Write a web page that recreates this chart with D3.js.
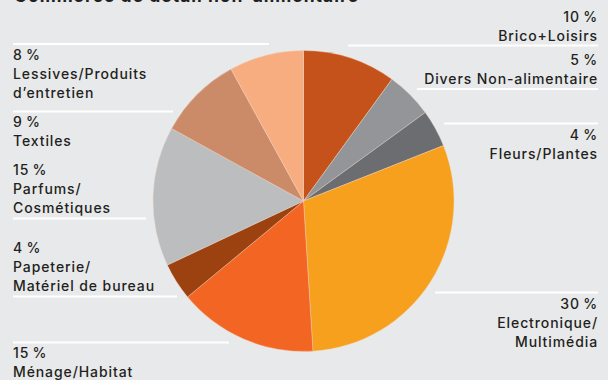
<!DOCTYPE html>
<html><head><meta charset="utf-8">
<script src="https://cdn.jsdelivr.net/npm/d3@7"></script>
<style>
html,body{margin:0;padding:0;background:#e8e9ea;}
svg{display:block;}
text{font-family:Inter,"Noto Sans",sans-serif;fill:#231f20;}
</style></head><body>
<svg id="c" width="608" height="380"></svg>
<script>
const title = "Commerce de détail non-alimentaire";
const categories = ["Brico+Loisirs","Divers Non-alimentaire","Fleurs/Plantes","Electronique/Multimédia","Ménage/Habitat","Papeterie/Matériel de bureau","Parfums/Cosmétiques","Textiles","Lessives/Produits d’entretien"];
const values = [10,5,4,30,15,4,15,9,8];
const colors = ["#c5521a","#939598","#6b6d70","#f7a01d","#f26522","#9c4110","#bbbdbf","#cb8b69","#f8ad80"];
const labelLines = [
  ["10 %","Brico+Loisirs"],
  ["5 %","Divers Non-alimentaire"],
  ["4 %","Fleurs/Plantes"],
  ["30 %","Electronique/","Multimédia"],
  ["15 %","Ménage/Habitat"],
  ["4 %","Papeterie/","Matériel de bureau"],
  ["15 %","Parfums/","Cosmétiques"],
  ["9 %","Textiles"],
  ["8 %","Lessives/Produits","d’entretien"]
];
// label layout: side, first baseline, rule y, rule extent
const labelLayout = [
  {side:"r", y:21.5, rule:45.5, rx:[348,598]},
  {side:"r", y:65,   rule:89,   rx:[417,598]},
  {side:"r", y:140,  rule:123.5,rx:[444,598]},
  {side:"r", y:309,  rule:292.5,rx:[435,598]},
  {side:"l", y:358,  rule:342.5,rx:[13,229]},
  {side:"l", y:253,  rule:296.5,rx:[13,177]},
  {side:"l", y:175,  rule:218.5,rx:[13,146]},
  {side:"l", y:127,  rule:111.5,rx:[13,173]},
  {side:"l", y:59.5, rule:44,   rx:[13,269]}
];

const svg = d3.select("#c");
svg.append("text").attr("x",14).attr("y",1.5).attr("font-size",17.5).attr("font-weight",700)
  .attr("letter-spacing",1.0).text(title);

const cx = 303.5, cy = 201, r = 150.5;
const pie = d3.pie().sort(null).value(d=>d)(values);
const arc = d3.arc().innerRadius(0).outerRadius(r);
const g = svg.append("g").attr("transform",`translate(${cx},${cy})`);
g.selectAll("path").data(pie).join("path")
  .attr("d",arc).attr("fill",(d,i)=>colors[i])
  .attr("stroke","#f2d9c8").attr("stroke-width",0.4);

const lg = svg.append("g");
labelLayout.forEach((L,i)=>{
  lg.append("line").attr("x1",L.rx[0]).attr("x2",L.rx[1]).attr("y1",L.rule).attr("y2",L.rule)
    .attr("stroke","#ffffff").attr("stroke-width",2);
  const t = lg.append("text").attr("font-size",14).attr("font-weight",500).attr("letter-spacing",0.9)
    .attr("text-anchor",L.side==="r"?"end":"start");
  labelLines[i].forEach((s,k)=>{
    t.append("tspan").attr("x",L.side==="r"?598:13).attr("y",L.y+k*19).text(s.replace(" %","\u2009%"));
  });
});
</script>
</body></html>
